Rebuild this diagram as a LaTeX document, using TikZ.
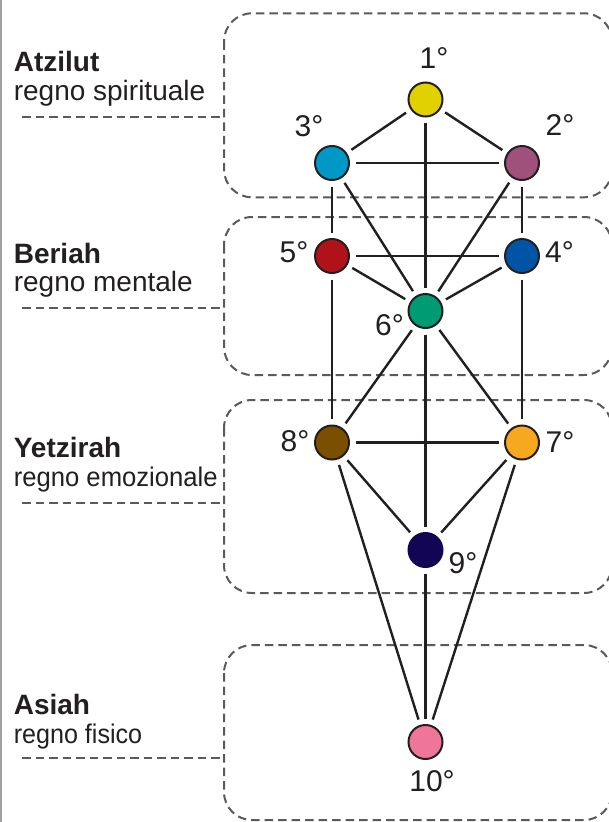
\documentclass[tikz,border=0pt]{standalone}
\usepackage{fontspec}
\setmainfont{Liberation Sans}
\definecolor{ink}{HTML}{231F20}
\definecolor{dashgray}{HTML}{5A5A5A}
\definecolor{edgegray}{HTML}{A0A0A0}
\definecolor{c1}{HTML}{E2D100}
\definecolor{c2}{HTML}{A0517B}
\definecolor{c3}{HTML}{0099C7}
\definecolor{c4}{HTML}{0054A6}
\definecolor{c5}{HTML}{B01219}
\definecolor{c6}{HTML}{009A73}
\definecolor{c7}{HTML}{F6A81E}
\definecolor{c8}{HTML}{7A4F00}
\definecolor{c9}{HTML}{120654}
\definecolor{c10}{HTML}{F07699}
\begin{document}
\begin{tikzpicture}[x=1pt,y=-1pt,
  sef/.style={circle, draw=ink, line width=2pt, minimum size=34pt, inner sep=0pt, outer sep=6.5pt},
  edge/.style={draw=ink, line width=2.4pt},
  world/.style={draw=dashgray, dash pattern=on 8.5pt off 5pt, line width=2pt, rounded corners=28pt},
  leader/.style={draw=dashgray, dash pattern=on 8.5pt off 5pt, line width=2pt},
  num/.style={text=ink, font=\fontsize{30}{32}\selectfont, inner sep=0pt, anchor=base},
  titletext/.style={text=ink, font=\bfseries\fontsize{28}{30}\selectfont, anchor=base west, inner sep=0pt},
  subtext/.style={text=ink, font=\fontsize{28}{30}\selectfont, anchor=base west, inner sep=0pt}]
\useasboundingbox (0,0) rectangle (609,822);
\fill[white] (0,0) rectangle (609,822);
\clip (0,0) rectangle (609,822);
\draw[edgegray, line width=1.5pt] (0.75,0) -- (0.75,822);

% world boxes
\draw[world] (224,13.3) rectangle (612,197.3);
\draw[world] (224,217) rectangle (612,375);
\draw[world] (224,400) rectangle (612,593);
\draw[world] (224,645) rectangle (612,820);

% leaders
\coordinate (a0) at (22,116.5);   \coordinate (a1) at (224,116.5);
\coordinate (b0) at (22,308.3); \coordinate (b1) at (224,308.3);
\coordinate (y0) at (22,502.7); \coordinate (y1) at (224,502.7);
\coordinate (s0) at (22,758.3); \coordinate (s1) at (224,758.3);
\draw[leader] (a0) -- (a1);
\draw[leader] (b0) -- (b1);
\draw[leader] (y0) -- (y1);
\draw[leader] (s0) -- (s1);

% world titles
\node[titletext] (tA) at (13.6,71.7) {Atzilut};
\node[subtext] (sA) at (13.6,100.5) {regno spirituale};
\node[titletext] (tB) at (13.6,263.3) {Beriah};
\node[subtext] (sB) at (13.6,291.7) {regno mentale};
\node[titletext] (tY) at (13.6,457.7) {Yetzirah};
\node[subtext, font=\fontsize{27}{29}\selectfont] (sY) at (13.6,486.7) {\scalebox{0.95}[1]{regno emozionale}};
\node[titletext] (tS) at (13.6,714.3) {Asiah};
\node[subtext, font=\fontsize{27}{29}\selectfont] (sS) at (13.6,743.3) {\scalebox{0.93}[1]{regno fisico}};

% sephirot
\node[sef, fill=c1] (n1) at (425.5,99.5) {};
\node[sef, fill=c3] (n3) at (332,163) {};
\node[sef, fill=c2] (n2) at (522,163) {};
\node[sef, fill=c5] (n5) at (332,256) {};
\node[sef, fill=c4] (n4) at (522,256) {};
\node[sef, fill=c6] (n6) at (425.5,311) {};
\node[sef, fill=c8] (n8) at (332,442.5) {};
\node[sef, fill=c7] (n7) at (522,442.5) {};
\node[sef, fill=c9, draw=c9] (n9) at (425.5,550) {};
\node[sef, fill=c10] (n10) at (425.5,742) {};

% paths
\foreach \a/\b in {n1/n3, n1/n2, n1/n6, n3/n2, n3/n5, n3/n6, n2/n4, n2/n6,
                   n5/n4, n5/n6, n4/n6, n5/n8, n4/n7, n6/n8, n6/n7, n6/n9,
                   n8/n7, n8/n9, n7/n9, n8/n10, n7/n10, n9/n10}
  \draw[edge] (\a) -- (\b);

% numbers
\node[num] (l1) at (434,68) {1°};
\node[num] (l3) at (309,136) {3°};
\node[num] (l2) at (560,135) {2°};
\node[num] (l5) at (294,262) {5°};
\node[num] (l4) at (559.5,262) {4°};
\node[num] (l6) at (389.5,335) {6°};
\node[num] (l8) at (295,451.7) {8°};
\node[num] (l7) at (560,452) {7°};
\node[num] (l9) at (463,573) {9°};
\node[num] (l10) at (432,791.7) {10°};
\end{tikzpicture}
\end{document}
